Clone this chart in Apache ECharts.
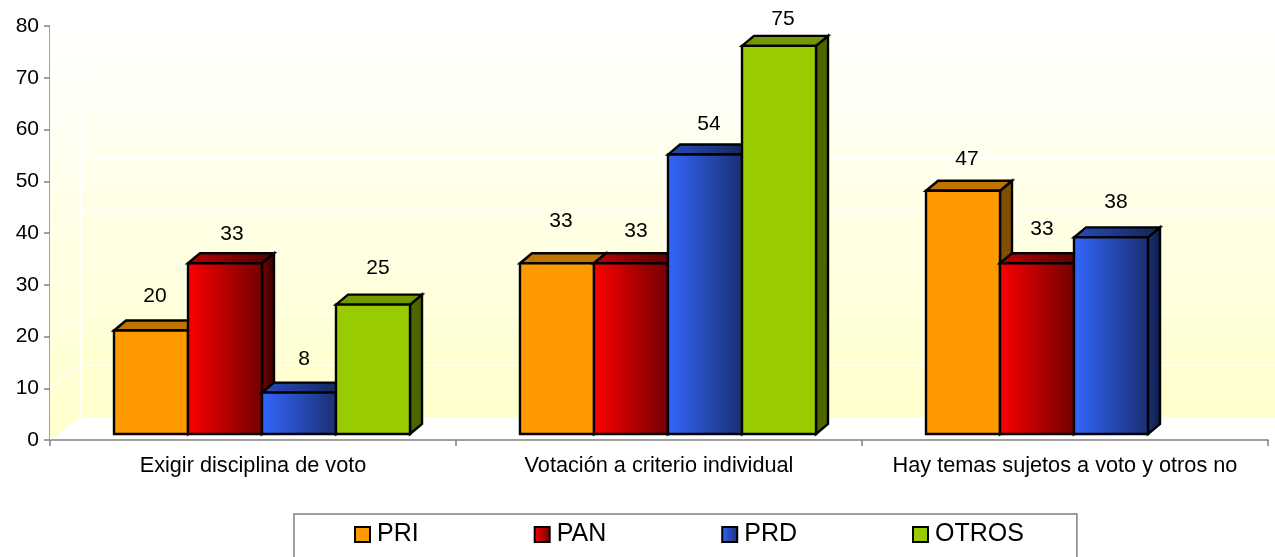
<!DOCTYPE html>
<html>
<head>
<meta charset="utf-8">
<script src="https://cdn.jsdelivr.net/npm/echarts@6/dist/echarts.min.js"></script>
<style>
html, body { margin: 0; padding: 0; background: #fff; }
#chart { width: 1275px; height: 557px; }
</style>
</head>
<body>
<div id="chart"></div>
<script>
const categories = ["Exigir disciplina de voto", "Votación a criterio individual", "Hay temas sujetos a voto y otros no"];
const yTicks = [0, 10, 20, 30, 40, 50, 60, 70, 80];
const pri = [20, 33, 47];
const pan = [33, 33, 33];
const prd = [8, 54, 38];
const otros = [25, 75, null];

// the value labels were placed by hand in the original, so each has its own nudge
const priNudge = [[0, -2], [0, -10], [0, 0]];
const panNudge = [[3, 3], [1, 0], [1, -2]];
const prdNudge = [[1, -1], [0, 2], [1, -3]];
const otrosNudge = [[1, -4], [0, 5], [0, 0]];

const FONT = '"Liberation Sans", Arial, sans-serif';
const BAR_W = 74;
const GROUP_SHIFT = 9;      // bars sit a bit right of the band centre
const BASE_UP = 6;          // front of the bars is above the axis line
const DEPTH_X = 12, DEPTH_Y = 10;
const WALL_X = 31, WALL_Y = 23;

function hGrad(a, b) {
  return new echarts.graphic.LinearGradient(0, 0, 1, 0, [
    { offset: 0, color: a }, { offset: 1, color: b }
  ]);
}

function barSeries(name, values, nudge, index, front, top, side) {
  return {
    type: "custom",
    name: name,
    coordinateSystem: "cartesian2d",
    encode: { x: 0, y: 1 },
    itemStyle: { color: front, borderColor: "#000", borderWidth: 2 },
    data: values.map((v, i) => [i, v]),
    clip: false,
    animation: false,
    z: 5,
    renderItem: function (params, api) {
      const v = api.value(1);
      if (isNaN(v)) return null;
      const p = api.coord([api.value(0), 0]);
      const h = api.size([0, v])[1];
      const x = p[0] + GROUP_SHIFT - 2 * BAR_W + index * BAR_W;
      const yb = p[1] - BASE_UP;
      const yt = yb - h;
      const line = { stroke: "#000", lineWidth: 2.4, lineJoin: "miter" };
      const n = nudge[params.dataIndex];
      return {
        type: "group",
        children: [
          { type: "polygon", shape: { points: [[x + BAR_W, yb], [x + BAR_W + DEPTH_X, yb - DEPTH_Y], [x + BAR_W + DEPTH_X, yt - DEPTH_Y], [x + BAR_W, yt]] },
            style: Object.assign({ fill: side }, line) },
          { type: "polygon", shape: { points: [[x, yt], [x + DEPTH_X, yt - DEPTH_Y], [x + BAR_W + DEPTH_X, yt - DEPTH_Y], [x + BAR_W, yt]] },
            style: Object.assign({ fill: top }, line) },
          { type: "rect", shape: { x: x, y: yt, width: BAR_W, height: h },
            style: Object.assign({ fill: front }, line) },
          { type: "text", x: x + BAR_W / 2 + 4 + n[0], y: yt - DEPTH_Y - 22 + n[1],
            style: { text: String(v), fill: "#000", font: "21px " + FONT, textAlign: "center", textVerticalAlign: "middle" } }
        ]
      };
    }
  };
}

// back wall, side wall and their white grid lines
const wallSeries = {
  type: "custom",
  coordinateSystem: "cartesian2d",
  silent: true,
  clip: false,
  animation: false,
  legendHoverLink: false,
  z: 1,
  data: [[0, 0]],
  renderItem: function (params, api) {
    const o = api.coord([0, 0]);
    const left = params.coordSys.x, right = 1275;
    const top = api.coord([0, 80])[1];
    const y0 = o[1];
    const backY = y0 - WALL_Y, backX = left + WALL_X;
    const fill = new echarts.graphic.LinearGradient(0, 0, 0, 1, [
      { offset: 0, color: "#ffffff" }, { offset: 0.13, color: "#fffffb" }, { offset: 1, color: "#ffffcc" }
    ]);
    const children = [
      { type: "rect", shape: { x: backX, y: top - WALL_Y, width: right - backX, height: y0 - top }, style: { fill: fill } },
      { type: "polygon", shape: { points: [[left, y0], [backX, backY], [backX, top - WALL_Y], [left, top]] }, style: { fill: fill } },
      { type: "line", shape: { x1: backX, y1: backY, x2: backX, y2: top - WALL_Y }, style: { stroke: "#fff", lineWidth: 2 } }
    ];
    yTicks.forEach(t => {
      const y = api.coord([0, t])[1];
      if (t === 0) return;
      children.push({ type: "line", shape: { x1: left, y1: y, x2: backX, y2: y - WALL_Y }, style: { stroke: "#fff", lineWidth: 1.5 } });
      children.push({ type: "line", shape: { x1: backX, y1: y - WALL_Y, x2: right, y2: y - WALL_Y }, style: { stroke: "#fff", lineWidth: 1.5 } });
    });
    return { type: "group", children: children };
  }
};

const chart = echarts.init(document.getElementById("chart"), null, { renderer: "canvas" });
const redFront = hGrad("#ff0000", "#700000");
const blueFront = hGrad("#3366ff", "#1a2f70");

chart.setOption({
  backgroundColor: "#fff",
  animation: false,
  grid: { left: 50, right: 7, top: 26, bottom: 117 },
  legend: {
    left: 294, top: 514,
    padding: [8, 53, 40, 60],
    itemWidth: 15, itemHeight: 15, itemGap: 115,
    borderColor: "#808080", borderWidth: 1.5,
    textStyle: { fontFamily: FONT, fontSize: 25, color: "#000", padding: [0, 0, 5, 2] },
    data: [
      { name: "PRI", icon: "rect", itemStyle: { color: "#ff9900", borderColor: "#000", borderWidth: 2 } },
      { name: "PAN", icon: "rect", itemStyle: { color: redFront, borderColor: "#000", borderWidth: 2 } },
      { name: "PRD", icon: "rect", itemStyle: { color: blueFront, borderColor: "#000", borderWidth: 2 } },
      { name: "OTROS", icon: "rect", itemStyle: { color: "#99cc00", borderColor: "#000", borderWidth: 2 } }
    ]
  },
  xAxis: {
    type: "category",
    data: categories,
    axisLine: { lineStyle: { color: "#808080", width: 1.5 } },
    axisTick: { show: true, alignWithLabel: false, interval: 0, length: 6, lineStyle: { color: "#808080", width: 1.5 } },
    axisLabel: { color: "#000", fontFamily: FONT, fontSize: 21.7, margin: 15, interval: 0 }
  },
  yAxis: {
    type: "value",
    min: 0, max: 80, interval: 10,
    axisLine: { show: true, lineStyle: { color: "#808080", width: 1.5 } },
    axisTick: { show: true, length: 6, lineStyle: { color: "#808080", width: 1.5 } },
    axisLabel: { color: "#000", fontFamily: FONT, fontSize: 21, margin: 11 },
    splitLine: { show: false }
  },
  series: [
    wallSeries,
    barSeries("PRI", pri, priNudge, 0, "#ff9900", "#bf7300", "#805000"),
    barSeries("PAN", pan, panNudge, 1, redFront, hGrad("#bf0000", "#500000"), hGrad("#800000", "#300000")),
    barSeries("PRD", prd, prdNudge, 2, blueFront, hGrad("#264dbf", "#13234f"), hGrad("#1a3380", "#0d1a40")),
    barSeries("OTROS", otros, otrosNudge, 3, "#99cc00", "#739900", "#4d6600")
  ]
});
</script>
</body>
</html>
